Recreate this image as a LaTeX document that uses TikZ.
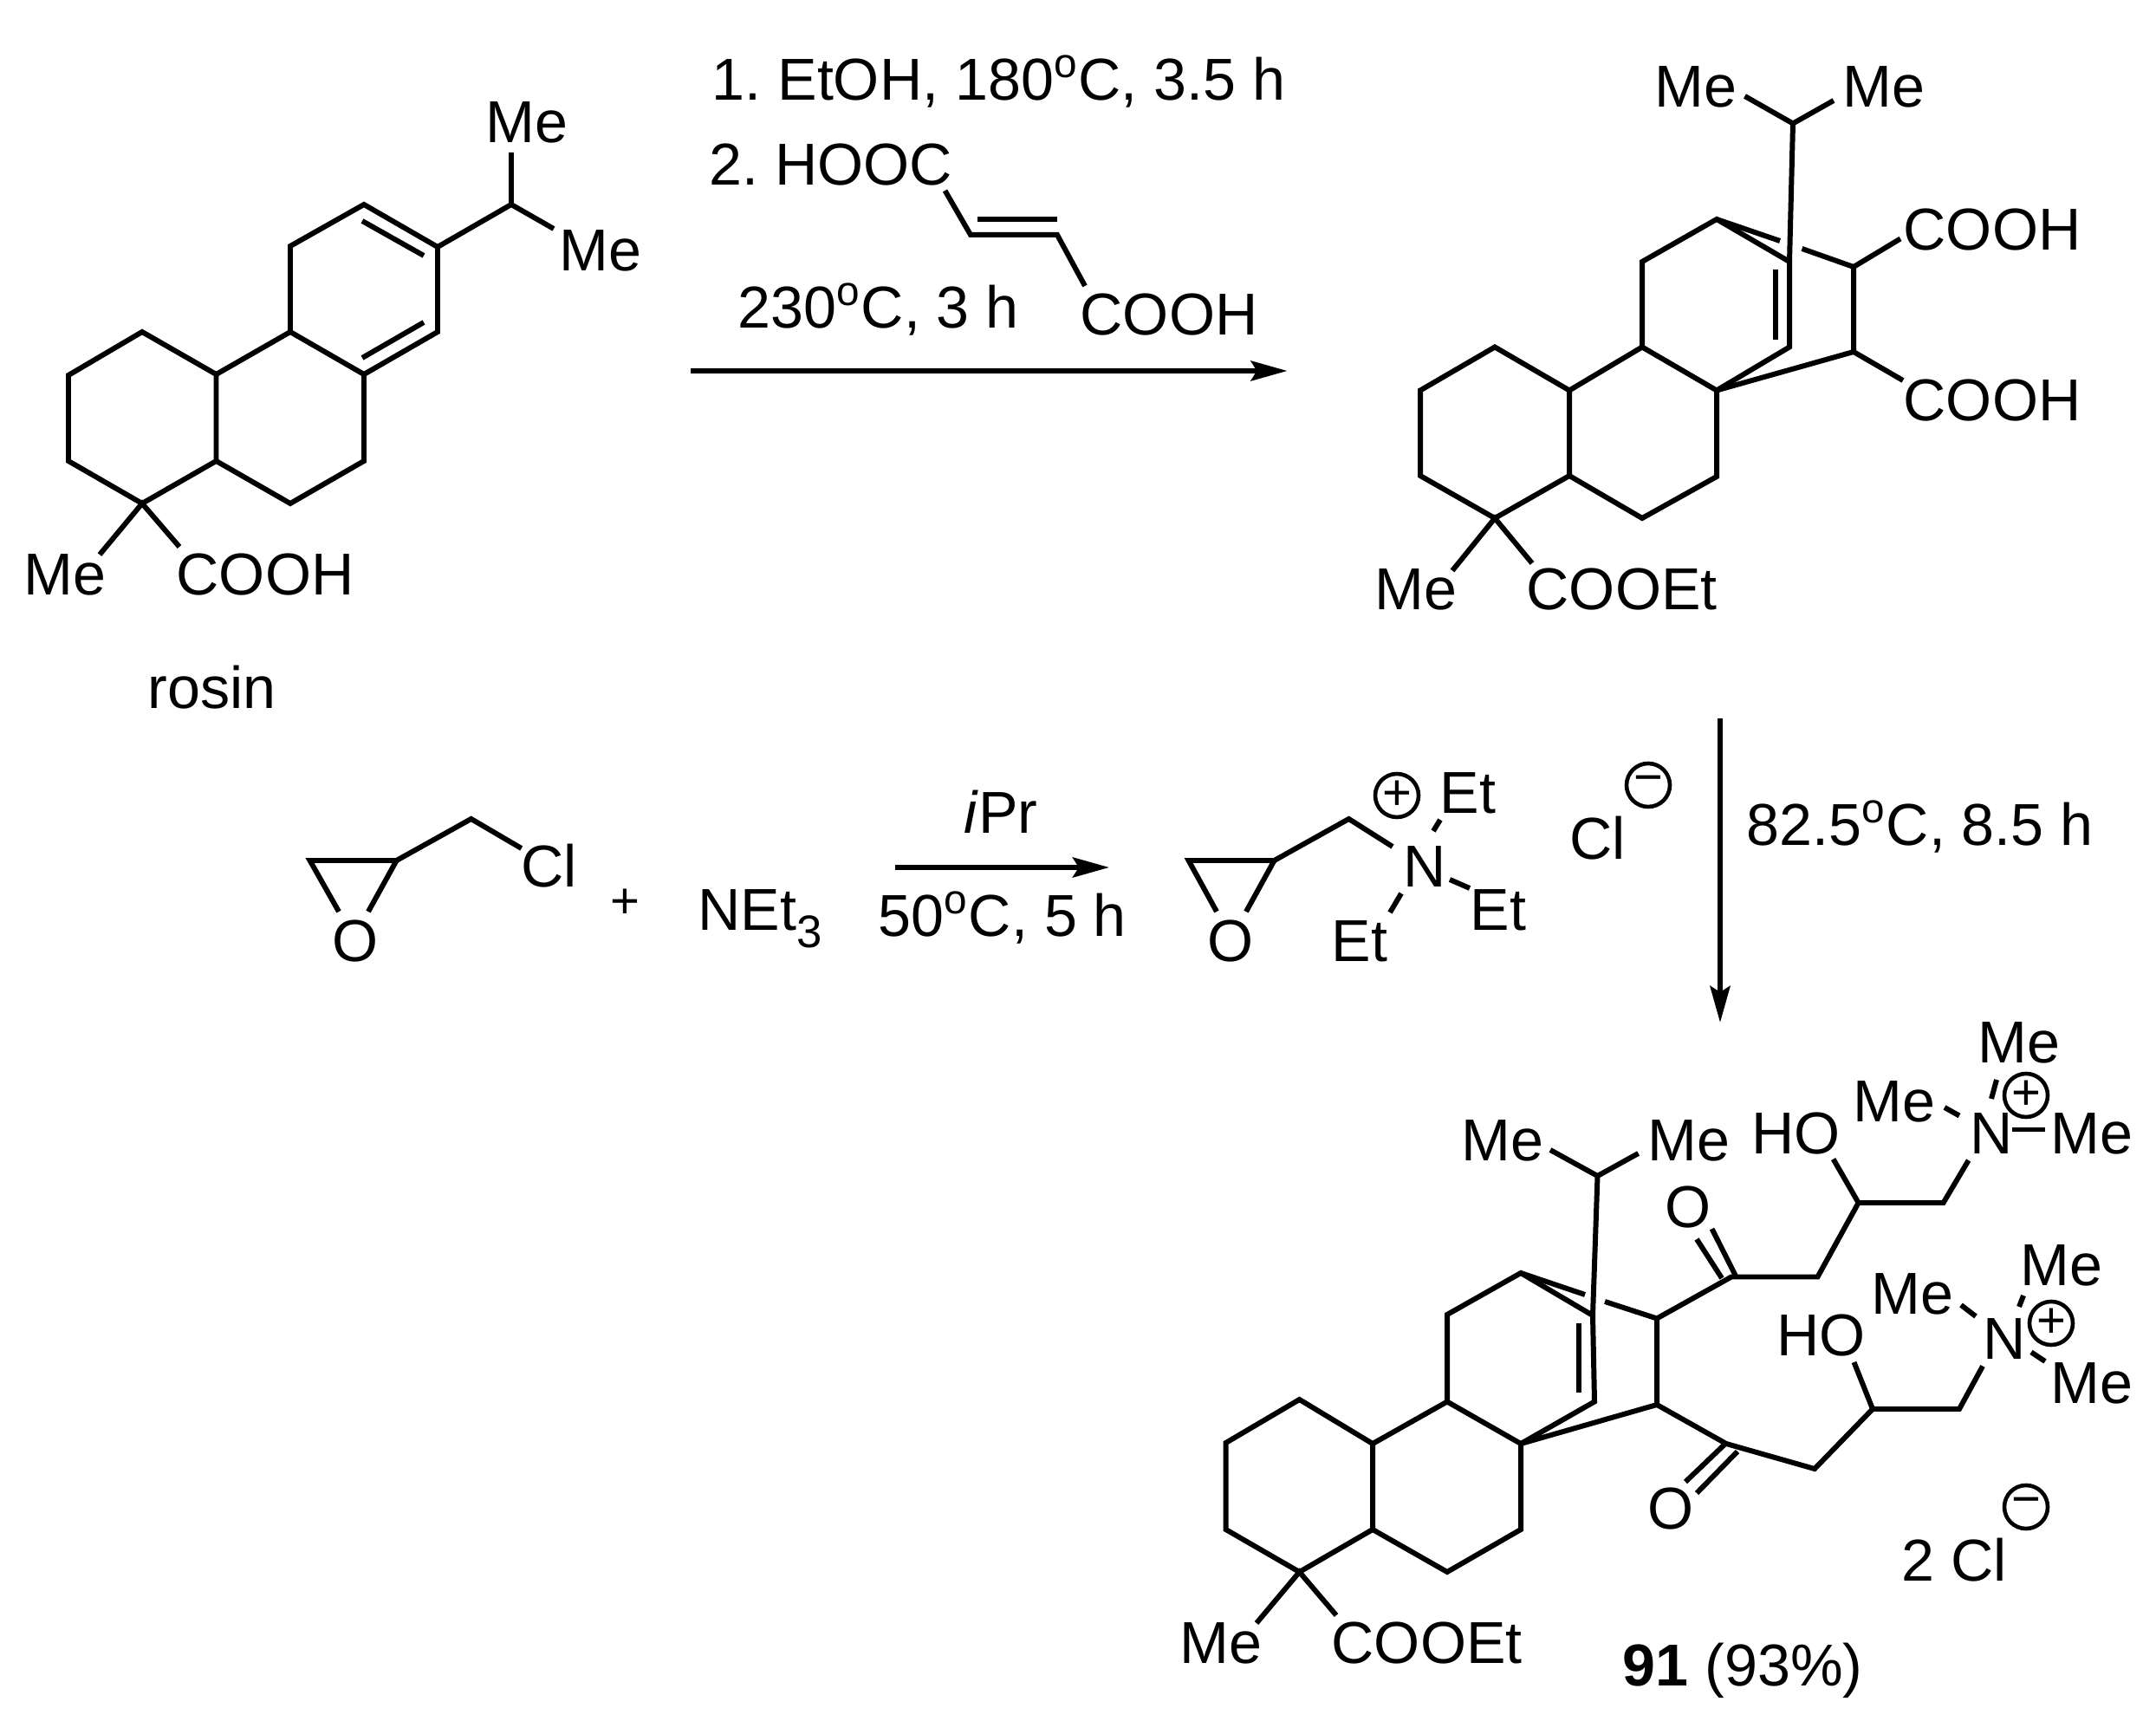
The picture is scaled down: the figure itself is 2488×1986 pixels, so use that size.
\documentclass[tikz,border=0pt]{standalone}
\usepackage{fontspec}
\setmainfont{Liberation Sans}
\usetikzlibrary{arrows.meta}

\tikzset{
    bond/.style={line width=1.7pt, line join=miter},
    lbl/.style={inner sep=0pt, anchor=base west, xshift=-0.04cm, yshift=-0.015cm, font=\frenchspacing\fontsize{19.4}{23}\selectfont},
    charge/.style={draw, circle, line width=1.3pt, inner sep=0pt, minimum size=0.5cm, font=\fontsize{16.5}{18}\selectfont},
    rxnarrow/.style={line width=1.7pt, -{Stealth[length=0.42cm, width=0.23cm, inset=0.07cm]}}
}

\begin{document}
\begin{tikzpicture}[x=0.01cm, y=-0.01cm]
    \useasboundingbox (0,0) rectangle (2488,1986);

    % rosin
    \coordinate (ro1) at (164,383); \coordinate (ro2) at (79,433); \coordinate (ro3) at (79,532);
    \coordinate (ro4) at (164,581); \coordinate (ro5) at (249.5,532); \coordinate (ro6) at (249.5,432);
    \coordinate (ro7) at (335,383); \coordinate (ro8) at (420,432); \coordinate (ro9) at (420,532);
    \coordinate (ro10) at (335,581); \coordinate (ro11) at (335,284); \coordinate (ro12) at (420,236);
    \coordinate (ro13) at (505,285); \coordinate (ro14) at (505,383); \coordinate (ro15) at (590,236);
    \coordinate (ro16) at (590,176); \coordinate (ro17) at (639,264);
    \coordinate (ro18) at (115,640); \coordinate (ro19) at (207,631);
    \coordinate (ro20) at (418,255); \coordinate (ro21) at (489,295);
    \coordinate (ro22) at (418,413); \coordinate (ro23) at (489,372);

    \draw[bond] (ro1) -- (ro2) -- (ro3) -- (ro4) -- (ro5) -- (ro6) -- cycle;
    \draw[bond] (ro6) -- (ro7) -- (ro8) -- (ro9) -- (ro10) -- (ro5);
    \draw[bond] (ro7) -- (ro11) -- (ro12) -- (ro13) -- (ro14) -- (ro8);
    \draw[bond] (ro20) -- (ro21);
    \draw[bond] (ro22) -- (ro23);
    \draw[bond] (ro13) -- (ro15) -- (ro16);
    \draw[bond] (ro15) -- (ro17);
    \draw[bond] (ro18) -- (ro4) -- (ro19);

    \node[lbl] (rome1) at (564,163) {Me};
    \node[lbl] (rome2) at (649,311) {Me};
    \node[lbl] (rome3) at (31,685) {Me};
    \node[lbl] (rocooh) at (207,685) {COOH};
    \node[lbl] (roname) at (174,816) {rosin};

    % first step
    \coordinate (fu1) at (1090.5,220); \coordinate (fu2) at (1120,271); \coordinate (fu3) at (1220,271);
    \coordinate (fu4) at (1252,330); \coordinate (fu5) at (1128,253); \coordinate (fu6) at (1220,253);
    \coordinate (st1a) at (796.5,428); \coordinate (st1b) at (1485.5,428);

    \node[lbl] (st1top) at (825,114) {1. EtOH, 180\textsuperscript{o}C, 3.5 h};
    \node[lbl] (st1acid) at (822,212) {2. HOOC};
    \node[lbl] (st1temp) at (855,377) {230\textsuperscript{o}C, 3 h};
    \node[lbl] (st1cooh) at (1250,385) {COOH};
    \draw[bond] (fu1) -- (fu2) -- (fu3) -- (fu4);
    \draw[bond] (fu5) -- (fu6);
    \draw[rxnarrow] (st1a) -- (st1b);

    % adduct
    \coordinate (ad1) at (1725,400.5); \coordinate (ad2) at (1639,450.5); \coordinate (ad3) at (1639,549);
    \coordinate (ad4) at (1725,598); \coordinate (ad5) at (1811,549); \coordinate (ad6) at (1811,450.5);
    \coordinate (ad7) at (1895,400.5); \coordinate (ad8) at (1981,450.5); \coordinate (ad9) at (1981,550);
    \coordinate (ad10) at (1895,598); \coordinate (ad11) at (1895,302); \coordinate (ad12) at (1981,253);
    \coordinate (ad13) at (2065,302); \coordinate (ad14) at (2065,400.5);
    \coordinate (ad15) at (2048.5,311); \coordinate (ad16) at (2048.5,392.5);
    \coordinate (ad17) at (2054,278); \coordinate (ad18) at (2079.5,287);
    \coordinate (ad19) at (2139,308); \coordinate (ad20) at (2139,406);
    \coordinate (ad21) at (2193,275.5); \coordinate (ad22) at (2196,439);
    \coordinate (ad23) at (2069,142.5); \coordinate (ad24) at (2013.5,111); \coordinate (ad25) at (2116,116);
    \coordinate (ad26) at (1676,658.5); \coordinate (ad27) at (1768,650);

    \draw[bond] (ad1) -- (ad2) -- (ad3) -- (ad4) -- (ad5) -- (ad6) -- cycle;
    \draw[bond] (ad6) -- (ad7) -- (ad8) -- (ad9) -- (ad10) -- (ad5);
    \draw[bond] (ad7) -- (ad11) -- (ad12) -- (ad13) -- (ad14) -- (ad8);
    \draw[bond] (ad15) -- (ad16);
    \draw[bond] (ad12) -- (ad17);
    \draw[bond] (ad18) -- (ad19) -- (ad20) -- (ad8);
    \draw[bond] (ad21) -- (ad19);
    \draw[bond] (ad22) -- (ad20);
    \draw[bond] (ad13) -- (ad23);
    \draw[bond] (ad24) -- (ad23) -- (ad25);
    \draw[bond] (ad26) -- (ad4) -- (ad27);

    \node[lbl] (adme1) at (1913,122) {Me};
    \node[lbl] (adme2) at (2130,122) {Me};
    \node[lbl] (adcooh1) at (2200,287) {COOH};
    \node[lbl] (adcooh2) at (2200,484) {COOH};
    \node[lbl] (adme3) at (1590,702) {Me};
    \node[lbl] (adester) at (1765,702) {COOEt};

    % epichlorohydrin and amine
    \coordinate (ep1) at (357.6,993); \coordinate (ep2) at (457.6,993); \coordinate (ep3) at (391,1052);
    \coordinate (ep4) at (425,1052); \coordinate (ep5) at (543.7,945); \coordinate (ep6) at (601.7,979);
    \coordinate (st2a) at (1033,1001); \coordinate (st2b) at (1280,1001);

    \draw[bond] (ep3) -- (ep1) -- (ep2) -- (ep4);
    \draw[bond] (ep2) -- (ep5) -- (ep6);
    \node[lbl] (epo) at (387,1108) {O};
    \node[lbl] (epcl) at (605,1022) {Cl};
    \node[inner sep=0pt, font=\fontsize{16.5}{18}\selectfont] (plus) at (721,1043) {+};
    \node[lbl] (amine) at (809,1072) {NEt\raisebox{-0.2cm}{\fontsize{15}{15}\selectfont 3}};
    \node[lbl] (st2top) at (1116,960) {\textit{i}Pr};
    \node[lbl] (st2temp) at (1017,1079) {50\textsuperscript{o}C, 5 h};
    \draw[rxnarrow] (st2a) -- (st2b);

    % ammonium salt
    \coordinate (am1) at (1371.6,993); \coordinate (am2) at (1470.5,993); \coordinate (am3) at (1404,1052);
    \coordinate (am4) at (1438,1052); \coordinate (am5) at (1556.5,945); \coordinate (am6) at (1607,977);
    \coordinate (am7) at (1662,946); \coordinate (am8) at (1654,959);
    \coordinate (am9) at (1673,1015); \coordinate (am10) at (1696,1025);
    \coordinate (am11) at (1617,1031); \coordinate (am12) at (1604,1053);

    \draw[bond] (am3) -- (am1) -- (am2) -- (am4);
    \draw[bond] (am2) -- (am5) -- (am6);
    \draw[bond] (am7) -- (am8);
    \draw[bond] (am9) -- (am10);
    \draw[bond] (am11) -- (am12);
    \node[lbl] (amo) at (1397,1108) {O};
    \node[lbl] (amn) at (1623,1022) {N};
    \node[charge] (ampos) at (1612,918) {+};
    \node[lbl] (amet1) at (1665,937) {Et};
    \node[lbl] (amet2) at (1700,1072) {Et};
    \node[lbl] (amet3) at (1540,1108) {Et};
    \node[lbl] (amcl) at (1815,990) {Cl};
    \node[charge] (amneg) at (1902,906) {\textminus};

    % second step
    \coordinate (st3a) at (1985,829); \coordinate (st3b) at (1985,1180);
    \draw[rxnarrow] (st3a) -- (st3b);
    \node[lbl] (st3temp) at (2019,974) {82.5\textsuperscript{o}C, 8.5 h};

    % product
    \coordinate (pr1) at (1499.5,1615); \coordinate (pr2) at (1414.6,1665); \coordinate (pr3) at (1414.6,1765);
    \coordinate (pr4) at (1499.5,1814); \coordinate (pr5) at (1584,1765); \coordinate (pr6) at (1584,1666);
    \coordinate (pr7) at (1670,1617.5); \coordinate (pr8) at (1755,1666); \coordinate (pr9) at (1755,1765);
    \coordinate (pr10) at (1670,1814); \coordinate (pr11) at (1670,1517); \coordinate (pr12) at (1755,1469);
    \coordinate (pr13) at (1838,1518); \coordinate (pr14) at (1840,1617.5);
    \coordinate (pr15) at (1822,1527); \coordinate (pr16) at (1822,1607);
    \coordinate (pr17) at (1829,1494); \coordinate (pr18) at (1852,1502);
    \coordinate (pr19) at (1912,1521.5); \coordinate (pr20) at (1912,1621);
    \coordinate (pr21) at (1843.5,1357); \coordinate (pr22) at (1789,1327); \coordinate (pr23) at (1890.6,1331);
    \coordinate (pr24) at (1450,1873); \coordinate (pr25) at (1542,1864);

    \draw[bond] (pr1) -- (pr2) -- (pr3) -- (pr4) -- (pr5) -- (pr6) -- cycle;
    \draw[bond] (pr6) -- (pr7) -- (pr8) -- (pr9) -- (pr10) -- (pr5);
    \draw[bond] (pr7) -- (pr11) -- (pr12) -- (pr13) -- (pr14) -- (pr8);
    \draw[bond] (pr15) -- (pr16);
    \draw[bond] (pr12) -- (pr17);
    \draw[bond] (pr18) -- (pr19) -- (pr20) -- (pr8);
    \draw[bond] (pr13) -- (pr21);
    \draw[bond] (pr22) -- (pr21) -- (pr23);
    \draw[bond] (pr24) -- (pr4) -- (pr25);

    % upper side chain
    \coordinate (up1) at (1998,1473.5); \coordinate (up2) at (2097.5,1473.5); \coordinate (up3) at (2144.6,1388);
    \coordinate (up4) at (2242.6,1388); \coordinate (up5) at (2271.6,1339); \coordinate (up6) at (2115.6,1337.6);
    \coordinate (up7) at (1987,1475); \coordinate (up8) at (1958,1430);
    \coordinate (up9) at (2003,1472.5); \coordinate (up10) at (1975.5,1418);
    \coordinate (up11) at (2304,1246); \coordinate (up12) at (2298,1268);
    \coordinate (up13) at (2244,1278); \coordinate (up14) at (2261,1287.5);
    \coordinate (up15) at (2322,1303.5); \coordinate (up16) at (2360,1303.5);

    \draw[bond] (pr19) -- (up1) -- (up2) -- (up3) -- (up4) -- (up5);
    \draw[bond] (up3) -- (up6);
    \draw[bond] (up7) -- (up8);
    \draw[bond] (up9) -- (up10);
    \draw[bond] (up11) -- (up12);
    \draw[bond] (up13) -- (up14);
    \draw[bond] (up15) -- (up16);

    % lower side chain
    \coordinate (lo1) at (1992,1666); \coordinate (lo2) at (2094,1695); \coordinate (lo3) at (2161,1626);
    \coordinate (lo4) at (2261,1626); \coordinate (lo5) at (2288,1576.5); \coordinate (lo6) at (2139.5,1572);
    \coordinate (lo7) at (1990,1667); \coordinate (lo8) at (1945,1710);
    \coordinate (lo9) at (2005,1675); \coordinate (lo10) at (1958,1723);
    \coordinate (lo11) at (2335,1495); \coordinate (lo12) at (2330,1508);
    \coordinate (lo13) at (2263,1506); \coordinate (lo14) at (2280,1519);
    \coordinate (lo15) at (2344,1560.4); \coordinate (lo16) at (2360,1571);

    \draw[bond] (pr20) -- (lo1) -- (lo2) -- (lo3) -- (lo4) -- (lo5);
    \draw[bond] (lo3) -- (lo6);
    \draw[bond] (lo7) -- (lo8);
    \draw[bond] (lo9) -- (lo10);
    \draw[bond] (lo11) -- (lo12);
    \draw[bond] (lo13) -- (lo14);
    \draw[bond] (lo15) -- (lo16);

    \node[lbl] (prme1) at (1690,1338) {Me};
    \node[lbl] (prme2) at (1905,1338) {Me};
    \node[lbl] (upho) at (2025,1330) {HO};
    \node[lbl] (upn) at (2277,1330) {N};
    \node[lbl] (upme1) at (2286,1225) {Me};
    \node[lbl] (upme2) at (2142,1293) {Me};
    \node[lbl] (upme3) at (2370,1330) {Me};
    \node[charge] (uppos) at (2338,1264) {+};
    \node[lbl] (upo) at (1925,1415) {O};
    \node[lbl] (loho) at (2054,1563) {HO};
    \node[lbl] (lon) at (2292,1567) {N};
    \node[lbl] (lome1) at (2335,1481.6) {Me};
    \node[lbl] (lome2) at (2163,1515) {Me};
    \node[lbl] (lome3) at (2370,1617.5) {Me};
    \node[charge] (lopos) at (2367,1527) {+};
    \node[lbl] (loo) at (1905,1763) {O};
    \node[lbl] (prcl) at (2198,1823) {2 Cl};
    \node[charge] (prneg) at (2338,1739) {\textminus};
    \node[lbl] (prme3) at (1364.5,1918) {Me};
    \node[lbl] (prester) at (1540,1918) {COOEt};
    \node[lbl] (prname) at (1876,1944) {\textbf{91} (93\%)};
\end{tikzpicture}
\end{document}
